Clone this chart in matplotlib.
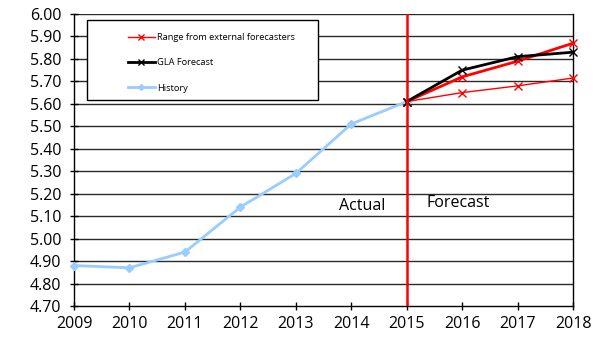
import matplotlib
matplotlib.use("Agg")
import matplotlib.pyplot as plt
from matplotlib.lines import Line2D
from matplotlib.patches import Rectangle

plt.rcParams['font.family'] = ['Open Sans', 'DejaVu Sans']

hist_years = [2009, 2010, 2011, 2012, 2013, 2014, 2015]
history = [4.88, 4.87, 4.94, 5.14, 5.29, 5.51, 5.61]

fc_years = [2015, 2016, 2017, 2018]
gla_forecast = [5.61, 5.75, 5.81, 5.83]
range_high = [5.61, 5.72, 5.79, 5.87]
range_low = [5.61, 5.65, 5.68, 5.715]

yticks = [4.70 + 0.10 * i for i in range(14)]
xticks = list(range(2009, 2019))

W, H = 596, 339
fig = plt.figure(figsize=(W / 100, H / 100), dpi=100)
ax = fig.add_axes([74 / W, 1 - 306 / H, (573 - 74) / W, (306 - 14) / H])

for y in yticks[1:]:
    ax.axhline(y, color='#2a2a2a', lw=1.0, zorder=1)

ax.plot(hist_years, history, color='#99ccff', lw=2, marker='D', ms=4,
        mec='#99ccff', mfc='#99ccff', zorder=3, clip_on=False)
ax.plot(fc_years, range_low, color='#ff0000', lw=1, marker='x', ms=6, mew=1,
        zorder=4, clip_on=False)
ax.plot(fc_years, range_high, color='#ff0000', lw=2, marker='x', ms=6, mew=1,
        zorder=4, clip_on=False)
ax.plot(fc_years, gla_forecast, color='#000000', lw=2, marker='x', ms=6, mew=1,
        zorder=5, clip_on=False)

ax.axvline(2015, color='#ff0000', lw=1.8, zorder=6)

ax.text(2014.2, 5.147, 'Actual', fontsize=11.5, ha='center', va='center')
ax.text(2015.93, 5.157, 'Forecast', fontsize=11.5, ha='center', va='center')

ax.set_xlim(2009, 2018)
ax.set_ylim(4.70, 6.00)
ax.set_xticks(xticks)
ax.set_yticks(yticks)
ax.set_yticklabels([f'{v:.2f}' for v in yticks])
ax.tick_params(axis='both', labelsize=11.5, direction='inout', length=6, width=1, color='black')
ax.tick_params(axis='x', pad=4)
ax.tick_params(axis='y', pad=6)
for side in ['left', 'bottom', 'right']:
    ax.spines[side].set_color('black')
    ax.spines[side].set_linewidth(1)
ax.spines['top'].set_visible(False)

# legend frame drawn as a plain box, entries placed inside it
fig.add_artist(Rectangle((87 / W, 1 - 100 / H), (318 - 87) / W, 80 / H,
                         transform=fig.transFigure, facecolor='white',
                         edgecolor='black', lw=1, zorder=10))
handles = [
    Line2D([], [], color='#ff0000', lw=1, marker='x', ms=5, mew=1),
    Line2D([], [], color='#000000', lw=2, marker='x', ms=5, mew=1),
    Line2D([], [], color='#99ccff', lw=2, marker='D', ms=3, mec='#99ccff'),
]
labels = ['Range from external forecasters', 'GLA Forecast', 'History']
leg = fig.legend(handles, labels, loc='upper left',
                 bbox_to_anchor=(128 / W, 1 - 33 / H),
                 fontsize=6.7, frameon=False, handlelength=2.9, handletextpad=0.25,
                 labelspacing=1.75, borderpad=0, borderaxespad=0)
leg.set_zorder(11)

fig.savefig('out.png', dpi=100)
